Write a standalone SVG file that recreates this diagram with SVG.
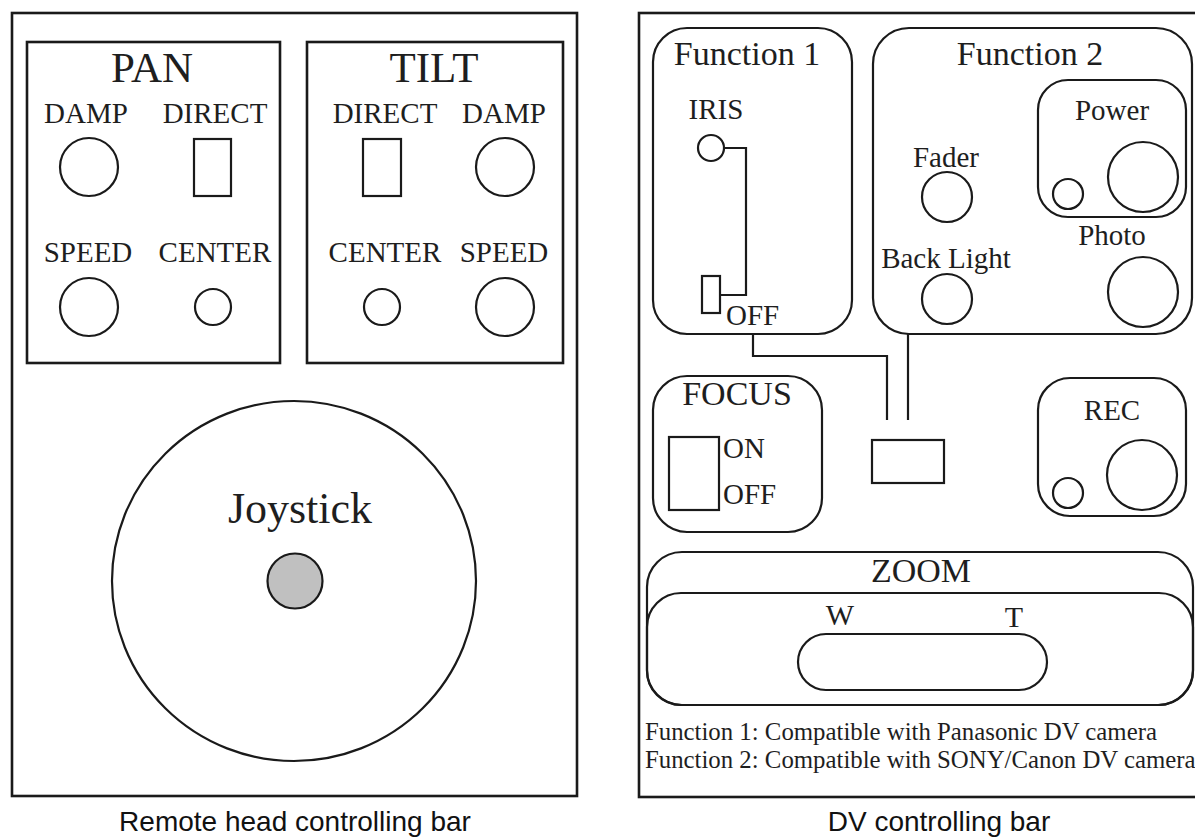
<svg xmlns="http://www.w3.org/2000/svg" width="1195" height="838" viewBox="0 0 1195 838">
<style>
.ln{fill:none;stroke:#1a1a1a;stroke-width:2.2}
.box{fill:none;stroke:#1a1a1a;stroke-width:2.6}
.t{font-family:"Liberation Serif","Times New Roman",serif;fill:#1e1e1e;text-anchor:middle}
.st{text-anchor:start}
.s{font-size:29px}
.h{font-size:43px}
.m{font-size:34px}
.n{font-size:24.8px}
.cap{font-family:"Liberation Sans",Arial,sans-serif;font-size:28px;fill:#111;text-anchor:middle}
</style>
<rect width="1195" height="838" fill="#fff"/>

<g id="remote-head-bar">
  <rect class="box" x="12" y="13" width="565" height="783"/>
  <text class="cap" x="295" y="831">Remote head controlling bar</text>
</g>

<g id="pan">
  <rect class="box" x="27" y="42" width="253" height="321"/>
  <text class="t h" x="152" y="82">PAN</text>
  <text class="t s" x="86" y="123">DAMP</text>
  <text class="t s" x="215" y="123">DIRECT</text>
  <circle class="ln" cx="89" cy="167" r="29"/>
  <rect class="ln" x="194" y="139" width="37" height="57"/>
  <text class="t s" x="88" y="262">SPEED</text>
  <text class="t s" x="215" y="262">CENTER</text>
  <circle class="ln" cx="89" cy="307" r="29"/>
  <circle class="ln" cx="213" cy="307" r="18"/>
</g>

<g id="tilt">
  <rect class="box" x="307" y="42" width="256" height="321"/>
  <text class="t h" x="434" y="82">TILT</text>
  <text class="t s" x="385" y="123">DIRECT</text>
  <text class="t s" x="504" y="123">DAMP</text>
  <rect class="ln" x="363" y="139" width="38" height="57"/>
  <circle class="ln" cx="505" cy="167" r="29"/>
  <text class="t s" x="385" y="262">CENTER</text>
  <text class="t s" x="504" y="262">SPEED</text>
  <circle class="ln" cx="382" cy="307" r="18"/>
  <circle class="ln" cx="505" cy="307" r="29"/>
</g>

<g id="joystick">
  <ellipse class="ln" cx="294" cy="581" rx="182" ry="180"/>
  <text class="t" x="300" y="523" font-size="44">Joystick</text>
  <circle cx="295" cy="581" r="27.5" fill="#c0c0c0" stroke="#1a1a1a" stroke-width="2.2"/>
</g>

<g id="dv-bar">
  <rect class="box" x="639" y="13" width="620" height="784"/>
  <text class="cap" x="939" y="831">DV controlling bar</text>
</g>

<g id="function1">
  <rect class="ln" x="653" y="28" width="199" height="306" rx="34"/>
  <text class="t m" x="747" y="65">Function 1</text>
  <text class="t s" x="716" y="119">IRIS</text>
  <circle class="ln" cx="711" cy="148" r="13"/>
  <polyline class="ln" points="724,148 746,148 746,295 720,295"/>
  <rect class="ln" x="702" y="276" width="18" height="37"/>
  <text class="t s st" x="726" y="325">OFF</text>
</g>

<g id="function2">
  <rect class="ln" x="873" y="28" width="319" height="306" rx="36"/>
  <text class="t m" x="1030" y="65">Function 2</text>
  <text class="t s" x="946" y="167">Fader</text>
  <circle class="ln" cx="947" cy="197" r="25"/>
  <text class="t s" x="946" y="268">Back Light</text>
  <circle class="ln" cx="947" cy="299" r="25"/>
  <text class="t s" x="1112" y="245">Photo</text>
  <circle class="ln" cx="1143" cy="292" r="35"/>
</g>

<g id="power">
  <rect class="ln" x="1038" y="80" width="148" height="137" rx="30"/>
  <text class="t s" x="1112" y="120">Power</text>
  <circle class="ln" cx="1143" cy="177" r="35"/>
  <circle class="ln" cx="1068" cy="194" r="15"/>
</g>

<g id="focus">
  <rect class="ln" x="653" y="376" width="169" height="156" rx="34"/>
  <text class="t m" x="737" y="405">FOCUS</text>
  <rect class="ln" x="669" y="437" width="50" height="73"/>
  <text class="t s st" x="723" y="458">ON</text>
  <text class="t s st" x="723" y="504">OFF</text>
</g>

<g id="selector">
  <rect class="ln" x="872" y="440" width="72" height="43"/>
</g>

<g id="rec">
  <rect class="ln" x="1038" y="378" width="148" height="138" rx="32"/>
  <text class="t s" x="1112" y="420">REC</text>
  <circle class="ln" cx="1142" cy="475" r="35"/>
  <circle class="ln" cx="1068" cy="493" r="15"/>
</g>

<g id="zoom">
  <rect class="ln" x="647" y="552" width="546" height="153" rx="35"/>
  <rect class="ln" x="647" y="593" width="546" height="112" rx="34"/>
  <text class="t m" x="921" y="582">ZOOM</text>
  <text class="t" x="840" y="625" font-size="30">W</text>
  <text class="t" x="1014" y="627" font-size="30">T</text>
  <rect class="ln" x="798" y="634" width="249" height="56" rx="28"/>
</g>

<g id="notes">
  <text class="t n st" x="645" y="740">Function 1: Compatible with Panasonic DV camera</text>
  <text class="t n st" x="645" y="768">Function 2: Compatible with SONY/Canon DV camera</text>
</g>

<g id="connectors">
  <polyline class="ln" points="753,334 753,356 887,356 887,420"/>
  <line class="ln" x1="908" y1="334" x2="908" y2="420"/>
</g>
</svg>
